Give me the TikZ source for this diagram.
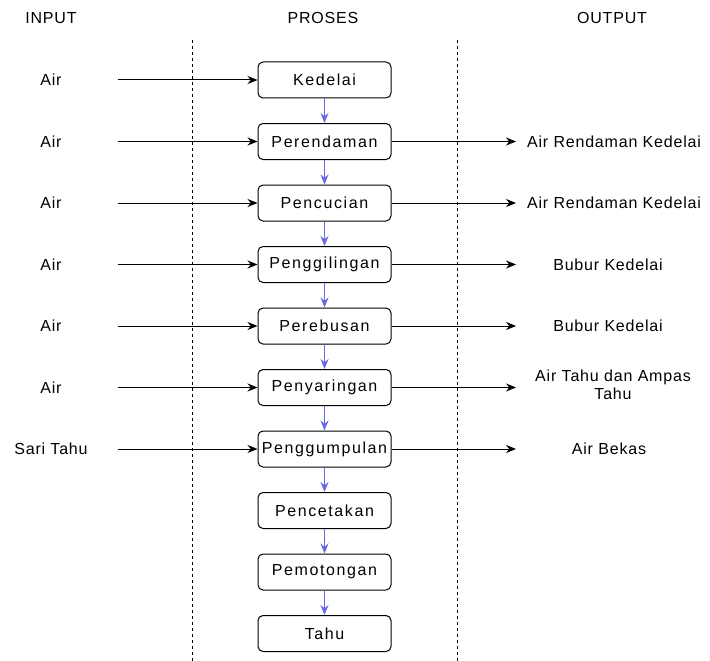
\documentclass[tikz,border=0pt]{standalone}
\usepackage{fontspec}
\setmainfont{Liberation Sans}[LetterSpace=5]
\newfontfamily\boxfont{Liberation Sans}[LetterSpace=10]
\usetikzlibrary{arrows.meta}
\definecolor{flowblue}{RGB}{105,105,225}
\tikzset{
  every node/.style={font=\fontsize{16}{18.5}\selectfont},
  procbox/.style={draw=black, line width=1pt, rounded corners=5pt, minimum width=133pt, minimum height=36pt, inner sep=0pt, font=\boxfont\fontsize{16}{18.5}\selectfont},
  inarrow/.style={draw=black, line width=1pt, -{Stealth[length=10pt,width=8pt]}},
  flowarrow/.style={draw=flowblue, line width=1pt, -{Stealth[length=10pt,width=8pt]}},
  sep/.style={draw=black, line width=1pt, dash pattern=on 3pt off 3pt},
  outlbl/.style={align=center, text width=185pt},
}
\begin{document}
\begin{tikzpicture}[x=1pt,y=-1pt]
\useasboundingbox (0,0) rectangle (710,661);
% headers
\node (hin) at (51,18) {INPUT};
\node (hpr) at (323,18) {PROSES};
\node (hout) at (612,18) {OUTPUT};
% separators
\coordinate (s1a) at (192,40); \coordinate (s1b) at (192,661);
\coordinate (s2a) at (457,40); \coordinate (s2b) at (457,661);
\draw[sep] (s1a) -- (s1b);
\draw[sep] (s2a) -- (s2b);
% process boxes
\foreach \n/\t/\y in {p1/Kedelai/80, p2/Perendaman/141.5, p3/Pencucian/203, p4/Penggilingan/264.5, p5/Perebusan/326, p6/Penyaringan/387.5, p7/Penggumpulan/449, p8/Pencetakan/510.5, p9/Pemotongan/572, p10/Tahu/633.5}
  \node[procbox] (\n) at (324.5,\y) {\t};
\foreach \a/\b in {p1/p2,p2/p3,p3/p4,p4/p5,p5/p6,p6/p7,p7/p8,p8/p9,p9/p10}
  \draw[flowarrow] (\a) -- (\b);
% inputs
\foreach \i/\t/\y in {1/Air/80, 2/Air/141.5, 3/Air/203, 4/Air/264.5, 5/Air/326, 6/Air/387.5, 7/Sari Tahu/449} {
  \node (in\i) at (51,\y) {\t};
  \coordinate (ia\i) at (118,\y);
  \draw[inarrow] (ia\i) -- (p\i.west);
}
% outputs
\foreach \i/\y in {2/141.5, 3/203, 4/264.5, 5/326, 6/387.5, 7/449} {
  \coordinate (oa\i) at (516,\y);
  \draw[inarrow] (p\i.east) -- (oa\i);
}
\node[outlbl] (out2) at (614,141.5) {Air Rendaman Kedelai};
\node[outlbl] (out3) at (614,203) {Air Rendaman Kedelai};
\node[outlbl] (out4) at (608,264.5) {Bubur Kedelai};
\node[outlbl] (out5) at (608,326) {Bubur Kedelai};
\node[outlbl] (out6) at (613,385) {Air Tahu dan Ampas\\Tahu};
\node[outlbl] (out7) at (609,449) {Air Bekas};
\end{tikzpicture}
\end{document}
